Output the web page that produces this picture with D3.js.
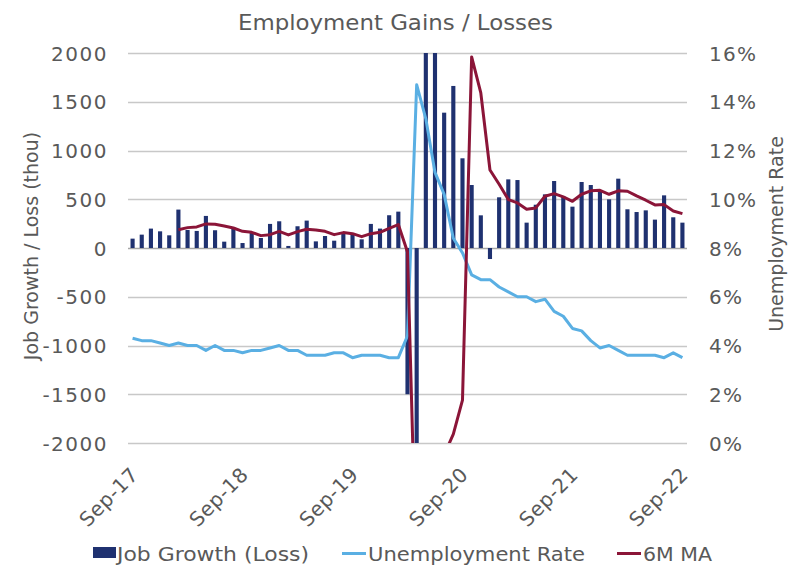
<!DOCTYPE html>
<html>
<head>
<meta charset="utf-8">
<script src="https://cdn.jsdelivr.net/npm/d3@7"></script>
<style>
  body { margin: 0; background: #fff; }
  svg text { fill: #595959; }
</style>
</head>
<body>
<div id="chart"></div>
<script>
// monthly, Sep-17 .. Sep-22
const months = d3.timeMonth.range(new Date(2017, 8, 1), new Date(2022, 9, 1));

const jobGrowth = [
    96, 137, 199, 171, 130, 394, 185, 175, 329, 182, 65, 209,
    51, 154, 103, 247, 274, 21, 223, 281, 68, 123, 75, 158,
    154, 89, 247, 199, 336, 373, -1500, -20500, 2700, 4800, 1388, 1662,
    920, 646, 335, -113, 520, 704, 697, 260, 444, 550, 687, 530,
    424, 677, 646, 595, 499, 711, 397, 369, 386, 291, 540, 315,
    260
];

const unempRate = [
    4.3, 4.2, 4.2, 4.1, 4.0, 4.1, 4.0, 4.0, 3.8, 4.0, 3.8, 3.8,
    3.7, 3.8, 3.8, 3.9, 4.0, 3.8, 3.8, 3.6, 3.6, 3.6, 3.7, 3.7,
    3.5, 3.6, 3.6, 3.6, 3.5, 3.5, 4.4, 14.7, 13.3, 11.1, 10.2, 8.4,
    7.8, 6.9, 6.7, 6.7, 6.4, 6.2, 6.0, 6.0, 5.8, 5.9, 5.4, 5.2,
    4.7, 4.6, 4.2, 3.9, 4.0, 3.8, 3.6, 3.6, 3.6, 3.6, 3.5, 3.7,
    3.5
];

// 6 month moving average, starts Feb-18
const movingAvg = [
    null, null, null, null, null, 188, 209, 216, 247, 243, 226, 205,
    171, 161, 127, 137, 171, 134, 168, 192, 185, 171, 137, 158,
    147, 116, 147, 161, 202, 240, -40, -3470, -3070, -2300, -2120, -1910,
    -1560, 1960, 1590, 800, 654, 497, 462, 397, 411, 531, 558, 524,
    479, 551, 586, 592, 551, 586, 582, 534, 490, 442, 445, 380,
    353
];

const leftTicks = [-2000, -1500, -1000, -500, 0, 500, 1000, 1500, 2000];
const rightTicks = [0, 2, 4, 6, 8, 10, 12, 14, 16];
const tickLabels = ["Sep-17", "Sep-18", "Sep-19", "Sep-20", "Sep-21", "Sep-22"];

const data = months.map((m, i) => ({
    month: m,
    jobs: jobGrowth[i],
    rate: unempRate[i],
    ma: movingAvg[i]
}));

const width = 799,
      height = 568,
      margin = ({ top: 53, right: 112, bottom: 125, left: 128 });

const font = "'DejaVu Sans', Verdana, sans-serif";

const svg = d3.select("#chart")
    .append("svg")
    .attr("width", width)
    .attr("height", height)
    .style("font-family", font);

const x = d3.scaleBand()
    .domain(data.map(d => d.month))
    .range([margin.left, width - margin.right])
    .paddingInner(0.55)
    .paddingOuter(0.275);

const y = d3.scaleLinear()
    .domain([-2000, 2000])
    .range([height - margin.bottom, margin.top]);

const yRight = d3.scaleLinear()
    .domain([0, 16])
    .range([height - margin.bottom, margin.top]);

svg.append("clipPath")
    .attr("id", "plot")
    .append("rect")
    .attr("x", margin.left)
    .attr("y", margin.top)
    .attr("width", width - margin.left - margin.right)
    .attr("height", height - margin.top - margin.bottom);

// gridlines
svg.append("g")
    .selectAll("line")
    .data(leftTicks)
    .join("line")
    .attr("x1", margin.left)
    .attr("x2", width - margin.right)
    .attr("y1", d => Math.round(y(d)) + 0.5)
    .attr("y2", d => Math.round(y(d)) + 0.5)
    .attr("stroke", d => d === 0 ? "#a6a6a6" : "#c8c8c8")
    .attr("stroke-width", 1.5);

// left axis
const leftAxis = svg.append("g")
    .attr("transform", `translate(${margin.left - 20},0)`)
    .call(d3.axisLeft(y).tickValues(leftTicks).tickSize(0).tickFormat(d => String(d)));
leftAxis.select(".domain").remove();
leftAxis.selectAll("text")
    .attr("x", 0)
    .attr("dy", "0.35em")
    .style("font-family", font)
    .style("font-size", "20px")
    .style("letter-spacing", "1.5px")
    .style("fill", "#595959");

// right axis
const rightAxis = svg.append("g")
    .attr("transform", `translate(${width - margin.right + 22},0)`)
    .call(d3.axisRight(yRight).tickValues(rightTicks).tickSize(0).tickFormat(d => d + "%"));
rightAxis.select(".domain").remove();
rightAxis.selectAll("text")
    .attr("x", 0)
    .attr("dy", "0.35em")
    .style("font-family", font)
    .style("font-size", "20px")
    .style("letter-spacing", "1.3px")
    .style("fill", "#595959");

// x labels, one per September
const septs = data.filter(d => d.month.getMonth() === 8).map(d => d.month);
svg.append("g")
    .selectAll("text")
    .data(septs)
    .join("text")
    .attr("transform", d => `translate(${x(d) + x.bandwidth() / 2 + 7},${height - margin.bottom + 33}) rotate(-45)`)
    .attr("text-anchor", "end")
    .style("font-size", "20px")
    .style("letter-spacing", "0.5px")
    .text((d, i) => tickLabels[i]);

const plot = svg.append("g").attr("clip-path", "url(#plot)");

// bars
plot.selectAll(".bar")
    .data(data)
    .join("rect")
    .attr("class", "bar")
    .attr("fill", "#1f3170")
    .attr("x", d => x(d.month))
    .attr("width", x.bandwidth())
    .attr("y", d => y(Math.max(0, d.jobs)))
    .attr("height", d => Math.abs(y(d.jobs) - y(0)));

const cx = d => x(d.month) + x.bandwidth() / 2;

plot.append("path")
    .datum(data)
    .attr("fill", "none")
    .attr("stroke", "#5aafe3")
    .attr("stroke-width", 3)
    .attr("stroke-linejoin", "round")
    .attr("d", d3.line().x(cx).y(d => yRight(d.rate)));

plot.append("path")
    .datum(data.filter(d => d.ma !== null))
    .attr("fill", "none")
    .attr("stroke", "#8b1538")
    .attr("stroke-width", 3)
    .attr("stroke-linejoin", "round")
    .attr("d", d3.line().x(cx).y(d => y(d.ma)));

// titles
svg.append("text")
    .attr("x", 238)
    .attr("y", 30)
    .attr("textLength", 315)
    .attr("lengthAdjust", "spacingAndGlyphs")
    .style("font-size", "21px")
    .text("Employment Gains / Losses");

svg.append("text")
    .attr("transform", `translate(38,${(y(-2000) + y(2000)) / 2 - 2}) rotate(-90)`)
    .attr("text-anchor", "middle")
    .style("font-size", "19px")
    .text("Job Growth / Loss (thou)");

svg.append("text")
    .attr("transform", `translate(783,${(y(-2000) + y(2000)) / 2 - 14}) rotate(-90)`)
    .attr("text-anchor", "middle")
    .style("font-size", "19px")
    .text("Unemployment Rate");

// legend
const legend = svg.append("g").style("font-size", "19px");

legend.append("rect")
    .attr("x", 93).attr("y", 547).attr("width", 23).attr("height", 11)
    .attr("fill", "#1f3170");
legend.append("text").attr("x", 117).attr("y", 561)
    .attr("textLength", 192).attr("lengthAdjust", "spacingAndGlyphs")
    .text("Job Growth (Loss)");

legend.append("line")
    .attr("x1", 342).attr("x2", 366).attr("y1", 553.5).attr("y2", 553.5)
    .attr("stroke", "#5aafe3").attr("stroke-width", 3);
legend.append("text").attr("x", 368).attr("y", 561)
    .attr("textLength", 217).attr("lengthAdjust", "spacingAndGlyphs")
    .text("Unemployment Rate");

legend.append("line")
    .attr("x1", 617).attr("x2", 641).attr("y1", 553.5).attr("y2", 553.5)
    .attr("stroke", "#8b1538").attr("stroke-width", 3);
legend.append("text").attr("x", 643).attr("y", 561)
    .attr("textLength", 69).attr("lengthAdjust", "spacingAndGlyphs")
    .text("6M MA");
</script>
</body>
</html>
